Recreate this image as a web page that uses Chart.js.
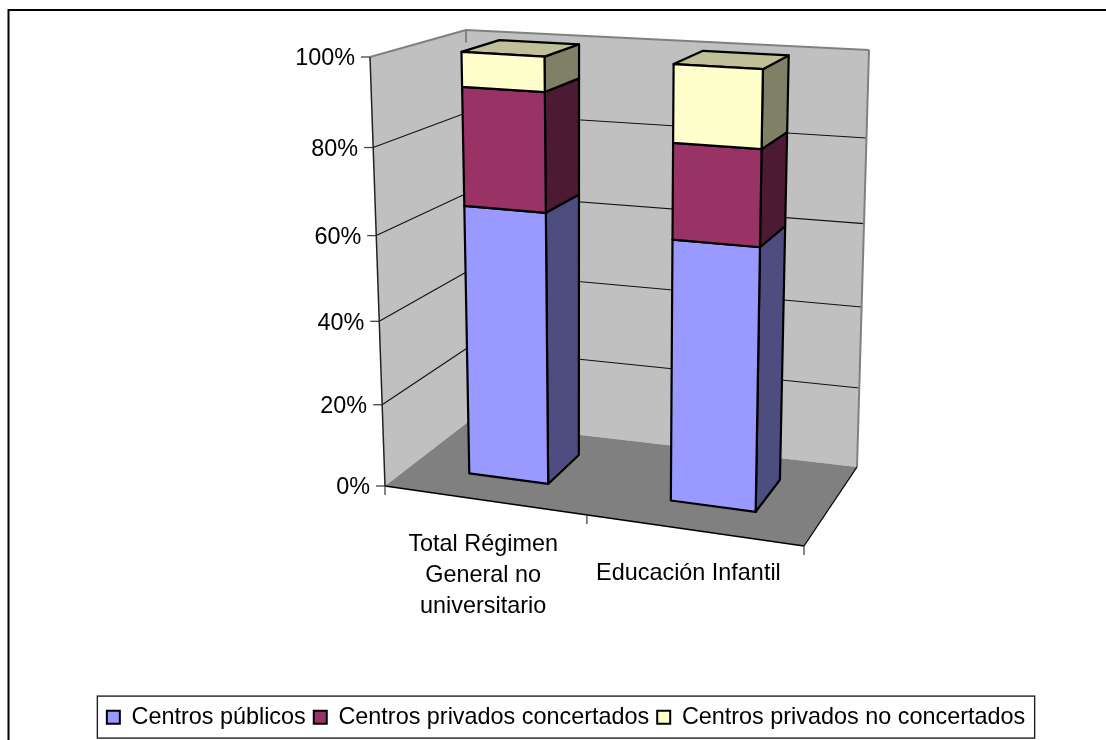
<!DOCTYPE html>
<html>
<head>
<meta charset="utf-8">
<style>
  html, body { margin: 0; padding: 0; background: #fff; overflow: hidden; }
  canvas { display: block; }
</style>
</head>
<body>
<canvas id="chart" width="1106" height="740"></canvas>
<script src="https://cdn.jsdelivr.net/npm/chart.js@4/dist/chart.umd.min.js"></script>
<script>
const categories = [['Total Régimen', 'General no', 'universitario'], 'Educación Infantil'];
const publicos = [65, 61.4];
const concertados = [27.2, 21.5];
const noConcertados = [7.8, 17.1];

const FONT = '"Liberation Sans", Arial, sans-serif';
const FONT_SIZE = 23.4;

// corners of the box as they land on the page: front/back, top/bottom, left/right
const box = {
    fbl: [385, 486], fbr: [804, 546], bbl: [468, 422], bbr: [857, 467],
    ftl: [370, 57],  ftr: [814, 84],  btl: [466, 30],  btr: [869, 50]
};
const barDepth = [0.32, 0.74];

function warp(t, a) {
    return a * t / (1 + (a - 1) * t);
}

// u: left to right, w: front to back, t: top to bottom, all 0..1
function project(u, w, t) {
    const uu = warp(u, 0.93);
    const tt = warp(t, 1.07);
    const out = [0, 1].map(function (i) {
        const tf = box.ftl[i] + (box.ftr[i] - box.ftl[i]) * uu;
        const tb = box.btl[i] + (box.btr[i] - box.btl[i]) * uu;
        const bf = box.fbl[i] + (box.fbr[i] - box.fbl[i]) * uu;
        const bb = box.bbl[i] + (box.bbr[i] - box.bbl[i]) * uu;
        const top = tf + (tb - tf) * w;
        const bot = bf + (bb - bf) * w;
        return top + (bot - top) * tt;
    });
    return out;
}

function face(ctx, pts, fill, stroke, lw) {
    ctx.beginPath();
    pts.forEach(function (p, i) {
        if (i === 0) ctx.moveTo(p[0], p[1]);
        else ctx.lineTo(p[0], p[1]);
    });
    ctx.closePath();
    if (fill) {
        ctx.fillStyle = fill;
        ctx.fill();
    }
    if (stroke) {
        ctx.strokeStyle = stroke;
        ctx.lineWidth = lw;
        ctx.lineJoin = 'round';
        ctx.stroke();
    }
}

function line(ctx, a, b, color, lw) {
    ctx.beginPath();
    ctx.moveTo(a[0], a[1]);
    ctx.lineTo(b[0], b[1]);
    ctx.strokeStyle = color;
    ctx.lineWidth = lw;
    ctx.stroke();
}

const scene3d = {
    id: 'scene3d',
    beforeDatasetsDraw(chart) {
        const ctx = chart.ctx;
        const area = chart.chartArea;
        const yScale = chart.scales.y;
        const xScale = chart.scales.x;
        const toT = function (py) { return (py - area.top) / area.height; };
        const toU = function (px) { return (px - area.left) / area.width; };

        ctx.save();
        // outer frame, cut off by the page on the right and bottom
        ctx.strokeStyle = '#000';
        ctx.lineWidth = 2;
        ctx.beginPath();
        ctx.moveTo(8.5, 745);
        ctx.lineTo(8.5, 10);
        ctx.lineTo(1110, 10);
        ctx.stroke();

        // walls and floor
        face(ctx, [project(0, 0, 0), project(0, 1, 0), project(0, 1, 1), project(0, 0, 1)], '#c0c0c0');
        face(ctx, [project(0, 1, 0), project(1, 1, 0), project(1, 1, 1), project(0, 1, 1)], '#c0c0c0');
        face(ctx, [project(0, 0, 1), project(1, 0, 1), project(1, 1, 1), project(0, 1, 1)], '#808080');

        // gridlines and tick labels
        ctx.font = FONT_SIZE + 'px ' + FONT;
        yScale.ticks.forEach(function (tick) {
            const t = toT(yScale.getPixelForValue(tick.value));
            const front = project(0, 0, t);
            if (tick.value > 0 && tick.value < 100) {
                line(ctx, front, project(0, 1, t), '#111', 1.1);
                line(ctx, project(0, 1, t), project(1, 1, t), '#111', 1.1);
            }
            line(ctx, [front[0] - 9, front[1]], front, '#444', 1.3);
            ctx.fillStyle = '#000';
            ctx.textAlign = 'right';
            ctx.textBaseline = 'middle';
            ctx.fillText(tick.label, front[0] - 15, front[1] + 2);
        });

        // wall edges
        line(ctx, project(0, 0, 0), project(0, 1, 0), '#808080', 2);
        line(ctx, project(0, 1, 0), project(1, 1, 0), '#808080', 2);
        line(ctx, project(1, 1, 0), project(1, 1, 1), '#808080', 2);
        line(ctx, project(0, 1, 0), project(0, 1, 0.03), '#808080', 2);
        line(ctx, project(0, 0, 0), project(0, 0, 1), '#222', 1.5);

        // floor edges and x ticks
        line(ctx, project(0, 0, 1), project(1, 0, 1), '#000', 1.5);
        line(ctx, project(1, 0, 1), project(1, 1, 1), '#000', 1.3);
        [0, 0.5, 1].forEach(function (u) {
            const p = project(u, 0, 1);
            line(ctx, p, [p[0], p[1] + 9], '#444', 1.3);
        });

        // category labels
        ctx.fillStyle = '#000';
        ctx.textAlign = 'center';
        ctx.textBaseline = 'middle';
        xScale.ticks.forEach(function (tick, i) {
            const u = toU(xScale.getPixelForTick(i));
            const cx = project(u, 0, 1)[0] - (i === 0 ? 1 : 5);
            const rows = Array.isArray(tick.label) ? tick.label : [tick.label];
            const midY = i === 0 ? 575.5 : 574;
            rows.forEach(function (row, r) {
                ctx.fillText(row, cx, midY + (r - (rows.length - 1) / 2) * 31);
            });
        });

        // bars, one stack at a time, bottom segment first
        chart.data.datasets.forEach(function (ds, di) {
            const meta = chart.getDatasetMeta(di);
            meta.data.forEach(function (bar, j) {
                const u0 = toU(bar.x - bar.width / 2);
                const u1 = toU(bar.x + bar.width / 2);
                const tTop = toT(bar.y);
                const tBot = toT(bar.base);
                const w0 = barDepth[0];
                const w1 = barDepth[1];
                face(ctx, [project(u1, w0, tTop), project(u1, w1, tTop), project(u1, w1, tBot), project(u1, w0, tBot)], ds.sideColor, '#000', 2.2);
                if (di === chart.data.datasets.length - 1) {
                    face(ctx, [project(u0, w0, tTop), project(u1, w0, tTop), project(u1, w1, tTop), project(u0, w1, tTop)], ds.topColor, '#000', 2.2);
                }
                face(ctx, [project(u0, w0, tTop), project(u1, w0, tTop), project(u1, w0, tBot), project(u0, w0, tBot)], ds.backgroundColor, '#000', 2.2);
            });
        });
        ctx.restore();
    },
    // the bars are already drawn above as boxes
    beforeDatasetDraw() {
        return false;
    },
    afterDraw(chart) {
        const ctx = chart.ctx;
        const hit = chart.legend.legendHitBoxes;
        const last = hit[hit.length - 1];
        ctx.save();
        ctx.strokeStyle = '#222';
        ctx.lineWidth = 1.4;
        ctx.strokeRect(hit[0].left - 9.5, hit[0].top - 9.5, last.left + last.width - hit[0].left + 19, 42);
        ctx.restore();
    }
};

new Chart(document.getElementById('chart'), {
    type: 'bar',
    data: {
        labels: categories,
        datasets: [
            { label: 'Centros públicos', data: publicos, backgroundColor: '#9999ff', sideColor: '#4d4d80', borderColor: '#000', borderWidth: 2 },
            { label: 'Centros privados concertados', data: concertados, backgroundColor: '#993366', sideColor: '#4d1a33', borderColor: '#000', borderWidth: 2 },
            { label: 'Centros privados no concertados', data: noConcertados, backgroundColor: '#ffffcc', sideColor: '#808066', topColor: '#bfbf99', borderColor: '#000', borderWidth: 2 }
        ]
    },
    options: {
        responsive: false,
        animation: false,
        layout: { padding: { left: 26, right: 0, top: 20, bottom: 1 } },
        datasets: { bar: { barPercentage: 0.4, categoryPercentage: 1 } },
        plugins: {
            title: { display: false },
            tooltip: { enabled: false },
            legend: {
                position: 'bottom',
                labels: {
                    boxWidth: 13,
                    boxHeight: 13,
                    padding: 8,
                    color: '#000',
                    font: { family: FONT, size: FONT_SIZE }
                }
            }
        },
        scales: {
            x: { stacked: true, display: false, ticks: { autoSkip: false } },
            y: {
                stacked: true,
                display: false,
                min: 0,
                max: 100,
                ticks: { stepSize: 20, callback: function (v) { return v + '%'; } }
            }
        }
    },
    plugins: [scene3d]
});
</script>
</body>
</html>
